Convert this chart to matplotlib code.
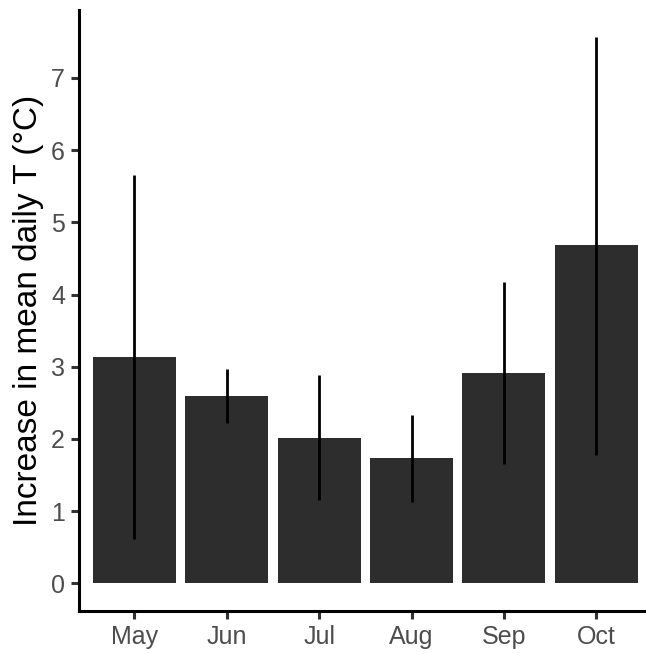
import matplotlib
matplotlib.use("Agg")
import matplotlib.pyplot as plt
import numpy as np

months = ["May", "Jun", "Jul", "Aug", "Sep", "Oct"]
mean_increase = [3.13, 2.59, 2.02, 1.74, 2.92, 4.68]
err_low = [0.62, 2.22, 1.15, 1.13, 1.65, 1.78]
err_high = [5.66, 2.97, 2.88, 2.33, 4.18, 7.56]
yticks = [0, 1, 2, 3, 4, 5, 6, 7]

plt.rcParams['font.family'] = ['Liberation Sans', 'DejaVu Sans']

W, H = 646, 654
fig = plt.figure(figsize=(W / 100, H / 100), dpi=100)
ax = fig.add_axes([79 / W, (H - 610.7) / H, (651.7 - 79) / W, (610.7 - 10) / H])

x = np.arange(len(months))
ax.bar(x, mean_increase, width=0.9, color="#2d2d2d", zorder=2)
ax.vlines(x, err_low, err_high, color="black", linewidth=2.0, zorder=3)

ax.set_xlim(-0.6, len(months) - 1 + 0.6)
ax.set_ylim(-0.378, 7.94)
ax.set_xticks(x)
ax.set_xticklabels(months)
ax.set_yticks(yticks)
ax.set_yticklabels([str(t) for t in yticks])

for side in ["top", "right"]:
    ax.spines[side].set_visible(False)
for side in ["left", "bottom"]:
    ax.spines[side].set_linewidth(2.2)
    ax.spines[side].set_color("black")

ax.tick_params(axis="both", length=6, width=2.2, color="#333333",
               labelsize=18, labelcolor="#4d4d4d", pad=4)
ax.set_ylabel("Increase in mean daily T (\u00b0C)", fontsize=24, color="black", labelpad=5)

fig.savefig("out.png", dpi=100)
